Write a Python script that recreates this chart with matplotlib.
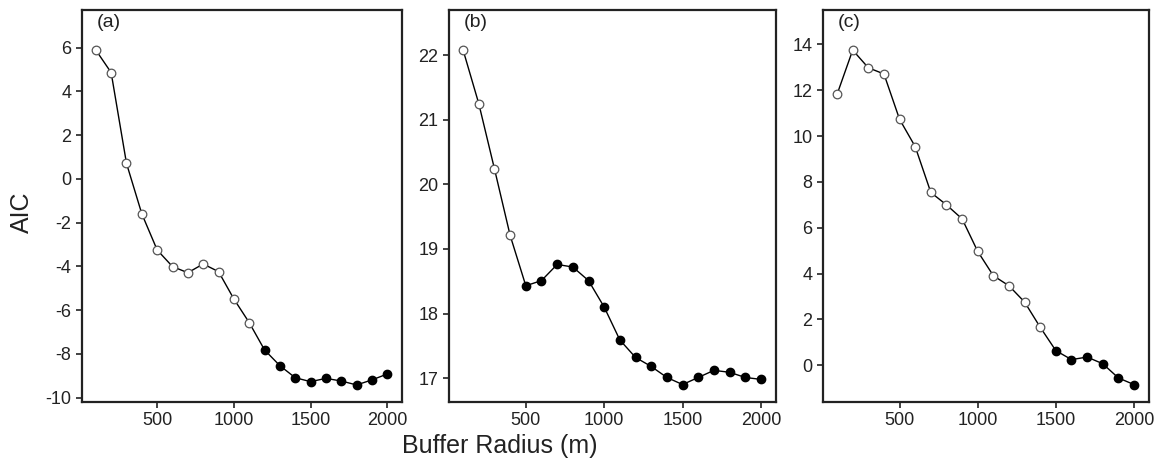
import numpy as np
import matplotlib.pyplot as plt

plt.rcParams['font.family'] = ['Liberation Sans', 'DejaVu Sans']
plt.rcParams['axes.unicode_minus'] = False

radius = list(range(100, 2001, 100))

aic_a = [5.89, 4.86, 0.71, -1.60, -3.25, -4.01, -4.29, -3.89, -4.24, -5.49,
         -6.57, -7.82, -8.54, -9.09, -9.27, -9.12, -9.24, -9.42, -9.19, -8.92]
aic_b = [22.08, 21.25, 20.24, 19.21, 18.43, 18.51, 18.76, 18.72, 18.51, 18.10,
         17.59, 17.32, 17.18, 17.01, 16.90, 17.01, 17.12, 17.09, 17.01, 16.98]
aic_c = [11.82, 13.75, 12.98, 12.71, 10.73, 9.54, 7.54, 7.00, 6.39, 4.97,
         3.91, 3.47, 2.76, 1.66, 0.64, 0.25, 0.36, 0.07, -0.55, -0.84]
# number of open (not significant) points at the start of each series
n_open = [11, 4, 14]
panel_labels = ['(a)', '(b)', '(c)']
yticks = [[6, 4, 2, 0, -2, -4, -6, -8, -10],
          [22, 21, 20, 19, 18, 17],
          [14, 12, 10, 8, 6, 4, 2, 0]]
ylims = [(-10.2, 7.72), (16.63, 22.70), (-1.6, 15.5)]

W, H = 1159, 462
fig = plt.figure(figsize=(W / 100, H / 100), dpi=100)
boxes = [(82, 402), (449, 776), (823, 1149)]
series = [aic_a, aic_b, aic_c]

for i in range(3):
    x0, x1 = boxes[i]
    ax = fig.add_axes([x0 / W, 60 / H, (x1 - x0) / W, 392 / H])
    y = np.array(series[i])
    x = np.array(radius)
    k = n_open[i]
    ax.plot(x, y, color='black', lw=1.0, zorder=1)
    ax.plot(x[:k], y[:k], 'o', mfc='white', mec='#555555', mew=0.9, ms=6.2, zorder=2)
    ax.plot(x[k:], y[k:], 'o', mfc='black', mec='black', ms=6, zorder=2)
    ax.set_xlim(10, 2096)
    ax.set_ylim(*ylims[i])
    ax.set_xticks([500, 1000, 1500, 2000])
    ax.set_yticks(yticks[i])
    ax.tick_params(direction='out', length=4, width=1.2, labelsize=13, colors='#222222')
    for s in ax.spines.values():
        s.set_linewidth(1.6)
        s.set_color('#222222')
    ax.text(0.045, 0.99, panel_labels[i], transform=ax.transAxes, fontsize=14,
            va='top', ha='left', color='#222222')

fig.text(22 / W, 1 - 212 / H, 'AIC', rotation=90, fontsize=18, va='center', ha='center', color='#222222')
fig.text(500 / W, 1 - 446 / H, 'Buffer Radius (m)', fontsize=18, va='center', ha='center', color='#222222')

fig.savefig('out.png', dpi=100)
